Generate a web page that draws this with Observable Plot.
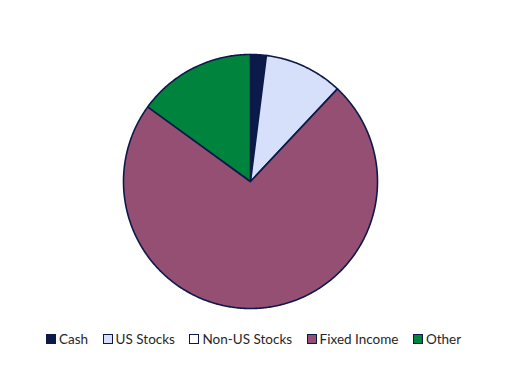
<!DOCTYPE html>
<html>
<head>
<meta charset="utf-8">
<script src="https://cdn.jsdelivr.net/npm/d3@7"></script>
<script src="https://cdn.jsdelivr.net/npm/@observablehq/plot@0.6"></script>
<style>
  html, body { margin: 0; padding: 0; background: #fff; }
  #chart { width: 528px; }
  .legend { display: flex; justify-content: flex-start; padding-left: 46px; margin-top: 11px; font-family: Lato, "Open Sans", sans-serif; font-size: 13.5px; color: #262626; }
  .item { display: inline-flex; align-items: center; margin-right: 14.5px; }
  .sw { width: 8px; height: 8px; border: 1px solid #0c1a4a; margin-right: 3px; }
</style>
</head>
<body>
<div id="chart"></div>
<script>
const categories = ["Cash", "US Stocks", "Non-US Stocks", "Fixed Income", "Other"];
const values = [2, 10, 0, 73, 15];
const colors = ["#0c1a4a", "#d6e0fa", "#ffffff", "#954f72", "#00843d"];
const outline = "#0c1a4a";

const data = categories.map((c, i) => ({category: c, value: values[i]}));
const arcs = d3.pie().sort(null).value(d => d.value)(data);

function slicePolygon(a) {
  const pts = [[0, 0]];
  const n = Math.max(2, Math.ceil((a.endAngle - a.startAngle) / 0.01));
  for (let k = 0; k <= n; k++) {
    const t = a.startAngle + (a.endAngle - a.startAngle) * k / n;
    pts.push([Math.sin(t), Math.cos(t)]);
  }
  pts.push([0, 0]);
  return {type: "Feature", properties: {category: a.data.category}, geometry: {type: "Polygon", coordinates: [pts]}};
}
const features = arcs.filter(a => a.data.value > 0).map(slicePolygon);
const circle = {type: "Polygon", coordinates: [d3.range(0, 361, 2).map(d => [Math.sin(d * Math.PI / 180), Math.cos(d * Math.PI / 180)])]};

const plot = Plot.plot({
  width: 528,
  height: 320,
  marginLeft: 123,
  marginRight: 151,
  marginTop: 54,
  marginBottom: 12,
  projection: {type: "reflect-y", domain: circle},
  color: {domain: categories, range: colors},
  marks: [
    Plot.geo(features, {fill: d => d.properties.category, stroke: outline, strokeWidth: 1.6, strokeLinejoin: "round"})
  ]
});
document.getElementById("chart").appendChild(plot);

const legend = document.createElement("div");
legend.className = "legend";
categories.forEach((c, i) => {
  const it = document.createElement("span");
  it.className = "item";
  const sw = document.createElement("span");
  sw.className = "sw";
  sw.style.background = colors[i];
  it.appendChild(sw);
  it.appendChild(document.createTextNode(c));
  legend.appendChild(it);
});
document.getElementById("chart").appendChild(legend);
</script>
</body>
</html>
